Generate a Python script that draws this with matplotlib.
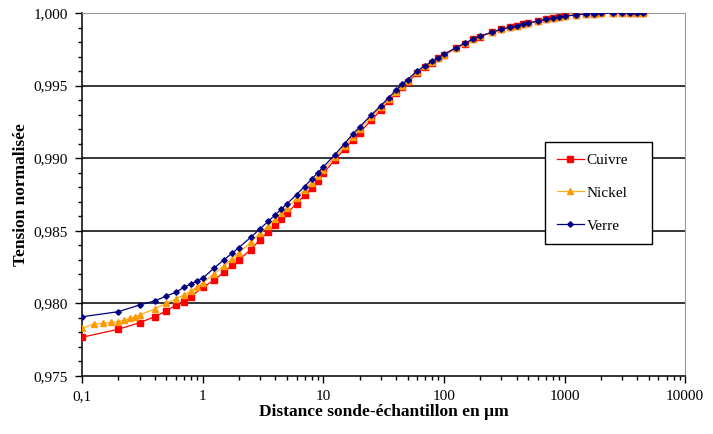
import matplotlib
matplotlib.use('Agg')
import matplotlib.pyplot as plt
from matplotlib.ticker import FuncFormatter, FixedLocator, LogLocator, MultipleLocator

plt.rcParams['font.family'] = ['Liberation Serif', 'DejaVu Serif']

# distances (µm) and normalised voltage
cuivre_x = [0.1, 0.2, 0.3, 0.4, 0.5, 0.6, 0.7, 0.8, 1, 1.25, 1.5, 1.75, 2, 2.5, 3, 3.5, 4, 4.5,
            5, 6, 7, 8, 9, 10, 12.5, 15, 17.5, 20, 25, 30, 35, 40, 45, 50, 60, 70, 80, 90, 100,
            125, 150, 175, 200, 250, 300, 350, 400, 450, 500, 600, 700, 800, 900, 1000,
            1250, 1500, 1750, 2000, 2500, 3000, 3500, 4000, 4500]
cuivre_y = [0.97767, 0.97822, 0.97867, 0.97908, 0.97948, 0.97989, 0.98012, 0.98046, 0.98111,
            0.98160, 0.98215, 0.98262, 0.98300, 0.98370, 0.98440, 0.98495, 0.98540, 0.98582,
            0.98620, 0.98688, 0.98745, 0.98795, 0.98845, 0.98895, 0.98990, 0.99062, 0.99125,
            0.99175, 0.99262, 0.99332, 0.99392, 0.99446, 0.99488, 0.99522, 0.99585, 0.99625,
            0.99658, 0.99687, 0.99710, 0.99757, 0.99790, 0.99818, 0.99838, 0.99868, 0.99888,
            0.99902, 0.99913, 0.99922, 0.99930, 0.99945, 0.99956, 0.99965, 0.99972, 0.99978,
            0.99988, 0.99993, 0.99996, 0.99998, 0.99999, 1.0, 1.0, 1.0, 1.0]

nickel_x = [0.1, 0.125, 0.15, 0.175, 0.2, 0.225, 0.25, 0.275, 0.3, 0.4, 0.5, 0.6, 0.7, 0.8, 0.9,
            1, 1.25, 1.5, 1.75, 2, 2.5, 3, 3.5, 4, 4.5, 5, 6, 7, 8, 9, 10, 12.5, 15, 17.5, 20,
            25, 30, 35, 40, 45, 50, 60, 70, 80, 90, 100, 125, 150, 175, 200, 250, 300, 350,
            400, 450, 500, 600, 700, 800, 900, 1000, 1250, 1500, 1750, 2000, 2500, 3000,
            3500, 4000, 4500]
nickel_y = [0.97828, 0.97858, 0.97863, 0.97870, 0.97874, 0.97886, 0.97897, 0.97908, 0.97920,
            0.97962, 0.98001, 0.98030, 0.98058, 0.98085, 0.98110, 0.98140, 0.98205, 0.98260,
            0.98308, 0.98350, 0.98420, 0.98482, 0.98535, 0.98582, 0.98622, 0.98658, 0.98725,
            0.98782, 0.98832, 0.98878, 0.98920, 0.99008, 0.99082, 0.99148, 0.99200, 0.99283,
            0.99350, 0.99406, 0.99456, 0.99498, 0.99533, 0.99593, 0.99632, 0.99662, 0.99690,
            0.99713, 0.99759, 0.99792, 0.99819, 0.99839, 0.99868, 0.99888, 0.99902, 0.99913,
            0.99922, 0.99930, 0.99945, 0.99956, 0.99965, 0.99972, 0.99978, 0.99988, 0.99993,
            0.99996, 0.99998, 0.99999, 1.0, 1.0, 1.0, 1.0]

verre_x = [0.1, 0.2, 0.3, 0.4, 0.5, 0.6, 0.7, 0.8, 0.9, 1, 1.25, 1.5, 1.75, 2, 2.5, 3, 3.5, 4,
           4.5, 5, 6, 7, 8, 9, 10, 12.5, 15, 17.5, 20, 25, 30, 35, 40, 45, 50, 60, 70, 80, 90,
           100, 125, 150, 175, 200, 250, 300, 350, 400, 450, 500, 600, 700, 800, 900, 1000,
           1250, 1500, 1750, 2000, 2500, 3000, 3500, 4000, 4500]
verre_y = [0.97908, 0.97943, 0.97989, 0.98017, 0.98051, 0.98077, 0.98111, 0.98134, 0.98155,
           0.98173, 0.98245, 0.98300, 0.98345, 0.98385, 0.98455, 0.98515, 0.98565, 0.98610,
           0.98650, 0.98685, 0.98750, 0.98805, 0.98855, 0.98900, 0.98940, 0.99025, 0.99100,
           0.99165, 0.99215, 0.99298, 0.99362, 0.99418, 0.99468, 0.99508, 0.99542, 0.99600,
           0.99638, 0.99667, 0.99692, 0.99715, 0.99760, 0.99793, 0.99820, 0.99840, 0.99868,
           0.99888, 0.99902, 0.99913, 0.99922, 0.99930, 0.99945, 0.99956, 0.99965, 0.99972,
           0.99978, 0.99988, 0.99993, 0.99996, 0.99998, 0.99999, 1.0, 1.0, 1.0, 1.0]

x_ticks = [0.1, 1, 10, 100, 1000, 10000]
x_tick_labels = ['0,1', '1', '10', '100', '1000', '10000']

fig = plt.figure(figsize=(7.13, 4.34), dpi=100)
ax = fig.add_axes([0.115, 0.1336, 0.846, 0.8364])

ax.plot(cuivre_x, cuivre_y, color='#FF0000', lw=0.9, marker='s', ms=4.2, mec='#FF0000',
        label='Cuivre', zorder=3)
ax.plot(nickel_x, nickel_y, color='#FFB020', lw=0.9, marker='^', ms=4.5, mfc='#FF9900',
        mec='#FF9900', label='Nickel', zorder=4)
ax.plot(verre_x, verre_y, color='#000080', lw=0.9, marker='D', ms=2.8, label='Verre', zorder=5)

ax.set_xscale('log')
ax.set_xlim(0.1, 10000)
ax.set_ylim(0.975, 1.000)

ax.xaxis.set_major_locator(FixedLocator(x_ticks))
ax.xaxis.set_major_formatter(FuncFormatter(lambda v, p: x_tick_labels[x_ticks.index(v)] if v in x_ticks else ''))
ax.xaxis.set_minor_locator(LogLocator(base=10, subs=range(2, 10), numticks=20))
ax.xaxis.set_minor_formatter(FuncFormatter(lambda v, p: ''))
ax.yaxis.set_major_locator(MultipleLocator(0.005))
ax.yaxis.set_minor_locator(MultipleLocator(0.001))
ax.yaxis.set_major_formatter(FuncFormatter(lambda v, p: ('%.3f' % v).replace('.', ',')))

ax.tick_params(which='major', direction='out', length=5, width=1, labelsize=11, pad=5)
ax.tick_params(which='minor', direction='out', length=3, width=1)
ax.tick_params(axis='x', pad=5)

for yv in [0.980, 0.985, 0.990, 0.995]:
    ax.axhline(yv, color='black', lw=1.1, zorder=1)

ax.spines['left'].set_linewidth(1.1)
ax.spines['bottom'].set_linewidth(1.1)
ax.spines['top'].set_color('#999999')
ax.spines['right'].set_color('#999999')

ax.set_xlabel('Distance sonde-échantillon en µm', fontsize=12.5, fontweight='bold', labelpad=1)
ax.set_ylabel('Tension normalisée', fontsize=12.5, fontweight='bold')
ax.yaxis.set_label_coords(-0.088, 0.5)

leg = ax.legend(loc='upper left', bbox_to_anchor=(0.768, 0.30, 0.1775, 0.345), mode='expand',
                fontsize=11, frameon=True, fancybox=False, edgecolor='black', framealpha=1,
                handlelength=1.8, labelspacing=1.25, borderpad=0.75, handletextpad=0.15,
                borderaxespad=0)
leg.get_frame().set_linewidth(1.0)

fig.savefig('out.png', dpi=100)
